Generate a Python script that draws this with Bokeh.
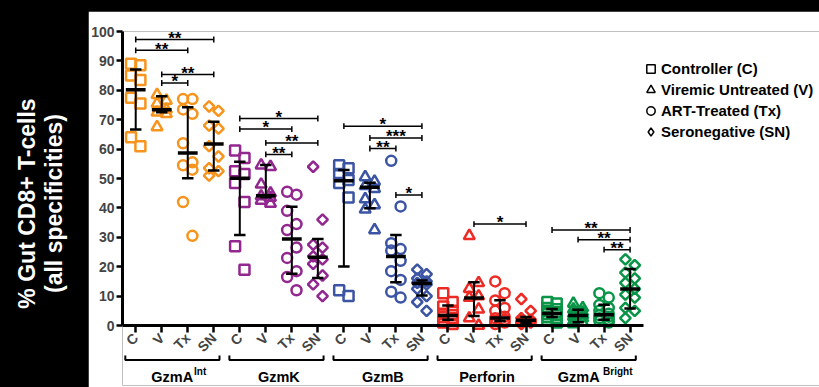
import math
import numpy as np
from bokeh.plotting import figure
from bokeh.models import FixedTicker, Legend, LegendItem, ColumnDataSource, Spacer
from bokeh.layouts import row, column
from bokeh.core.properties import value
from bokeh.embed import file_html
from bokeh.resources import INLINE

# ---------------- data ----------------
groups = ["GzmA Int", "GzmK", "GzmB", "Perforin", "GzmA Bright"]
group_main = ["GzmA", "GzmK", "GzmB", "Perforin", "GzmA"]
group_sup = ["Int", "", "", "", "Bright"]
cohorts = ["C", "V", "Tx", "SN"]
cohort_names = ["Controller (C)", "Viremic Untreated (V)", "ART-Treated (Tx)", "Seronegative (SN)"]
group_colors = ["#F7941D", "#92278F", "#3B54A4", "#EE2A24", "#0A9447"]

# values per group: [C, V, Tx, SN]
gzma_int = [
    [89, 88.5, 85, 83.5, 77.5, 75.5, 64, 61],
    [78.5, 76.5, 75.5, 73.5, 72.5, 72, 67.5],
    [77, 77, 73.5, 72, 62, 55.5, 54.5, 53, 42, 30.5],
    [74.5, 73, 68, 67, 61, 57.5, 53.5, 52.5, 51],
]
gzmk = [
    [59.5, 57, 52.5, 51.5, 48.5, 42, 27, 19],
    [54.5, 54, 48, 45, 44, 43.5, 42.5, 41.5],
    [45.5, 44.5, 39, 34.5, 32.5, 26.5, 23, 18.5, 16.5, 12],
    [54, 36, 27.5, 26.5, 23.5, 22.5, 21, 17, 14, 10],
]
gzmb = [
    [54.5, 53.5, 51.5, 49.5, 48.5, 43.5, 12, 10],
    [50.5, 49, 47.5, 46.5, 43, 41, 39.5, 32.5],
    [56, 40.5, 28, 26, 25.5, 22, 18.5, 15.5, 11.5, 9.5],
    [19, 17.5, 16, 15, 14.5, 14, 12.5, 10, 8, 5],
]
perforin = [
    [11, 8, 6.5, 5, 4, 3.5, 3, 2.5, 2, 1.5, 1, 0.5],
    [30.5, 14.5, 12.5, 10, 9.5, 5.5, 2.5, 0],
    [15, 11, 8.5, 6, 5, 3, 2.5, 2, 1.5, 1, 0.5],
    [9, 5, 2.5, 2, 1.5, 1.5, 1, 1, 0.5],
]
gzma_bright = [
    [8, 7.5, 6, 5.5, 5, 4.5, 4, 3.5, 3, 2.5, 2, 1],
    [7.5, 6, 5.5, 4.5, 4, 3.5, 3, 2.5, 1.5, 1, 0.5],
    [11, 9.5, 7, 6, 5, 4, 3.5, 3, 2.5, 2, 1.5, 1],
    [22.5, 20.5, 18, 16, 14.5, 12.5, 10.5, 9.5, 6, 5, 2.5],
]

# median and interquartile range per group: [C, V, Tx, SN]
gzma_int_med = [80.2, 73.4, 58.7, 61.7]
gzma_int_lo = [66.7, 72.5, 50.1, 52.7]
gzma_int_hi = [87.1, 78.0, 74.2, 69.3]
gzmk_med = [50.1, 44.1, 29.4, 23.2]
gzmk_lo = [30.8, 43.6, 17.6, 16.2]
gzmk_hi = [55.7, 54.6, 40.4, 29.4]
gzmb_med = [49.2, 47.0, 23.5, 14.3]
gzmb_lo = [20.1, 39.9, 14.7, 10.2]
gzmb_hi = [52.9, 48.6, 30.8, 15.3]
perforin_med = [3.4, 9.4, 2.6, 1.8]
perforin_lo = [2.0, 3.2, 1.5, 0.9]
perforin_hi = [6.8, 14.7, 8.6, 2.9]
gzma_bright_med = [4.1, 3.4, 3.7, 12.4]
gzma_bright_lo = [2.9, 1.1, 2.0, 5.8]
gzma_bright_hi = [5.6, 5.4, 7.1, 19.2]

# significance brackets
sig_group = [0, 0, 0, 0, 1, 1, 1, 1, 2, 2, 2, 2, 3, 4, 4, 4]
sig_from = [0, 0, 1, 1, 0, 0, 1, 1, 0, 1, 1, 2, 1, 0, 1, 2]
sig_to = [3, 2, 3, 2, 3, 2, 3, 2, 3, 3, 2, 3, 3, 3, 3, 3]
sig_y = [97.3, 93.6, 85.4, 82.5, 70.4, 66.8, 62.1, 58.2, 67.8, 63.8, 60.2, 44.4, 34.5, 32.5, 29.2, 25.8]
sig_text = ["**", "**", "**", "*", "*", "*", "**", "**", "*", "***", "**", "*", "*", "**", "**", "**"]

y_ticks = [0, 10, 20, 30, 40, 50, 60, 70, 80, 90, 100]

# ---------------- figure ----------------
FONT = "Liberation Sans"
all_values = [gzma_int, gzmk, gzmb, perforin, gzma_bright]
all_med = [gzma_int_med, gzmk_med, gzmb_med, perforin_med, gzma_bright_med]
all_lo = [gzma_int_lo, gzmk_lo, gzmb_lo, perforin_lo, gzma_bright_lo]
all_hi = [gzma_int_hi, gzmk_hi, gzmb_hi, perforin_hi, gzma_bright_hi]

p = figure(width=731, height=376, x_range=(0.492, 27.28), y_range=(-20.4, 100),
           output_backend="svg", toolbar_location=None,
           min_border_left=29, min_border_right=0, min_border_top=20, min_border_bottom=2,
           background_fill_color="white", border_fill_color="white", outline_line_color=None)
p.grid.visible = False

markers = ["square", "triangle", "circle", "square"]
legend_markers = ["square", "triangle", "circle", "diamond"]
m_angles = [0, 0, 0, math.pi / 4]
m_sizes = [10, 11, 10, 7.5]

def xpos(g, c):
    return 1 + 4 * g + c

for g in range(5):
    for c in range(4):
        vals = all_values[g][c]
        xc = xpos(g, c)
        xs = [xc + (-0.18 if k % 2 == 0 else 0.18) for k in range(len(vals))]
        p.scatter(xs, vals, marker=markers[c], size=m_sizes[c], angle=m_angles[c],
                  fill_color=None, line_color=group_colors[g], line_width=2.5)

# error bars: median + IQR
vx0, vx1, vy0, vy1 = [], [], [], []
cx0, cx1, cy = [], [], []
mx0, mx1, my = [], [], []
for g in range(5):
    for c in range(4):
        xc = xpos(g, c)
        vx0.append(xc); vx1.append(xc); vy0.append(all_lo[g][c]); vy1.append(all_hi[g][c])
        for v in (all_lo[g][c], all_hi[g][c]):
            cx0.append(xc - 0.22); cx1.append(xc + 0.22); cy.append(v)
        mx0.append(xc - 0.38); mx1.append(xc + 0.38); my.append(all_med[g][c])
p.segment(vx0, vy0, vx1, vy1, line_color="black", line_width=2)
p.segment(cx0, cy, cx1, cy, line_color="black", line_width=2.5)
p.segment(mx0, my, mx1, my, line_color="black", line_width=3.5)

# significance brackets
bx0 = [xpos(g, a) for g, a in zip(sig_group, sig_from)]
bx1 = [xpos(g, b) for g, b in zip(sig_group, sig_to)]
p.segment(bx0, sig_y, bx1, sig_y, line_color="black", line_width=1.5)
tx = bx0 + bx1
ty = sig_y + sig_y
p.segment(tx, [y - 1.0 for y in ty], tx, [y + 1.0 for y in ty], line_color="black", line_width=1.5)
p.text([(a + b) / 2 for a, b in zip(bx0, bx1)], [y + 0.4 for y in sig_y], text=sig_text,
       text_align="center", text_baseline="alphabetic", text_font=value(FONT),
       text_font_size="17px", text_font_style="bold", text_color="black")

# group brackets + labels under the axis
gx0 = [xpos(g, 0) - 0.4 for g in range(5)]
gx1 = [xpos(g, 3) + 0.22 for g in range(5)]
p.multi_line([[a, a, b, b] for a, b in zip(gx0, gx1)],
             [[-10.2, -11.7, -11.7, -10.2] for _ in range(5)],
             line_color="black", line_width=2)
gc = [(xpos(g, 0) + xpos(g, 3)) / 2 for g in range(5)]
plain = [g for g in range(5) if not group_sup[g]]
p.text([gc[g] for g in plain], [-17.6] * len(plain), text=[group_main[g] for g in plain],
       text_align="center", text_baseline="alphabetic", text_font=value(FONT),
       text_font_size="14.5px", text_font_style="bold", text_color="black")
supd = [g for g in range(5) if group_sup[g]]
main_off = {0: 0.71, 4: 0.33}
sup_off = {0: 0.74, 4: 0.46}
p.text([gc[g] + main_off[g] for g in supd], [-17.6] * len(supd), text=[group_main[g] for g in supd],
       text_align="right", text_baseline="alphabetic", text_font=value(FONT),
       text_font_size="14.5px", text_font_style="bold", text_color="black")
p.text([gc[g] + sup_off[g] for g in supd], [-15.8] * len(supd), text=[group_sup[g] for g in supd],
       text_align="left", text_baseline="alphabetic", text_font=value(FONT),
       text_font_size="10px", text_font_style="bold", text_color="black")

# axes
xa = p.xaxis[0]
xa.fixed_location = 0
xa.bounds = (0.492, 20.53)
xa.ticker = FixedTicker(ticks=[xpos(g, c) for g in range(5) for c in range(4)])
xa.major_label_overrides = {xpos(g, c): cohorts[c] for g in range(5) for c in range(4)}
xa.major_label_orientation = math.pi / 4
xa.major_label_text_font = FONT
xa.major_label_text_font_style = "bold"
xa.major_label_text_font_size = "14px"
xa.major_label_standoff = 3
xa.axis_line_width = 3
xa.major_tick_line_width = 2.5
xa.major_tick_out = 7
xa.major_tick_in = 0
xa.minor_tick_line_color = None

ya = p.yaxis[0]
ya.bounds = (0, 100)
ya.ticker = FixedTicker(ticks=y_ticks)
ya.major_label_text_font = "Liberation Sans Narrow, Liberation Sans"
ya.major_label_text_font_style = "bold"
ya.major_label_text_font_size = "14px"
ya.major_label_standoff = 2
ya.axis_line_width = 3
ya.major_tick_line_width = 2.5
ya.major_tick_out = 6
ya.major_tick_in = 0
ya.minor_tick_line_color = None

# legend (proxy renderers with a single NaN point so that glyphs are drawn)
items = []
for c in range(4):
    src = ColumnDataSource(data=dict(x=np.array([np.nan]), y=np.array([np.nan])))
    r = p.scatter("x", "y", source=src, marker=legend_markers[c], fill_color=None,
                  line_color="black", line_width=1.5)
    items.append(LegendItem(label=cohort_names[c], renderers=[r]))
legend = Legend(items=items, location=(518, 243), orientation="vertical",
                border_line_color=None, background_fill_alpha=0, padding=0, margin=0,
                spacing=0, glyph_width=21, glyph_height=21, label_height=21, label_standoff=0,
                label_text_font=FONT, label_text_font_style="bold",
                label_text_font_size="15px", label_text_color="black")
p.add_layout(legend)

# left black area with the y title
lab = figure(width=88, height=387, x_range=(0, 88), y_range=(0, 387),
             output_backend="svg", toolbar_location=None, min_border=0,
             x_axis_type=None, y_axis_type=None,
             background_fill_color="black", border_fill_color="black", outline_line_color=None)
lab.grid.visible = False
lab.text([26, 53], [184, 184], text=["% Gut CD8+ T-cells", "(all specificities)"],
         angle=math.pi / 2, text_align="center", text_baseline="alphabetic",
         text_font=value(FONT), text_font_size="23px", text_font_style="bold",
         text_color="white")

layout = row(lab, column(Spacer(width=731, height=11), p))

html = file_html(layout, INLINE, title="chart")
html = html.replace("<head>", "<head>\n<style>html, body { background-color: #000000; }</style>", 1)
open("out.html", "w").write(html)
